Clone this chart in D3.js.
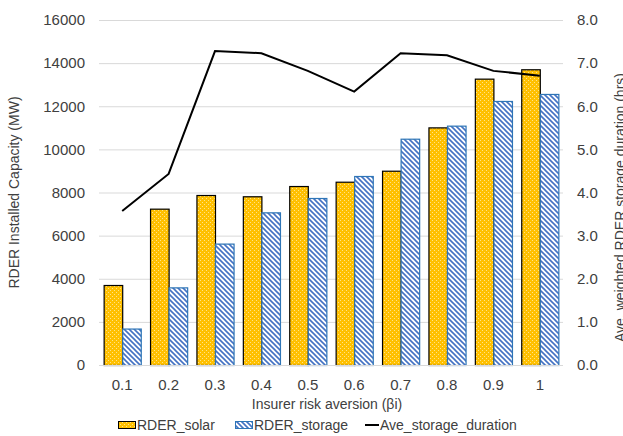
<!DOCTYPE html>
<html><head><meta charset="utf-8">
<script src="https://cdn.jsdelivr.net/npm/d3@7"></script>
<style>body{margin:0;background:#fff}svg{display:block}text{font-family:"Liberation Sans",Arial,sans-serif;fill:#404040}</style>
</head><body><svg id="c" width="623" height="436"></svg>
<script>
const categories = ["0.1","0.2","0.3","0.4","0.5","0.6","0.7","0.8","0.9","1"];
const solar = [3710, 7250, 7884, 7825, 8300, 8500, 9010, 11020, 13280, 13715];
const storage = [1690, 3600, 5630, 7080, 7745, 8765, 10495, 11100, 12245, 12570];
const duration = [3.57, 4.43, 7.28, 7.23, 6.82, 6.34, 7.23, 7.18, 6.82, 6.71];
const leftTicks = [0,2000,4000,6000,8000,10000,12000,14000,16000];
const rightTicks = [0,1,2,3,4,5,6,7,8];

const svg = d3.select("#c");
const L = 99, R = 563, T = 20, B = 365;
const x = d3.scaleBand().domain(categories).range([L, R]).paddingInner(0.2).paddingOuter(0.1);
const xs = d3.scaleBand().domain(["solar","storage"]).range([0, x.bandwidth()]);
const y = d3.scaleLinear().domain([0,16000]).range([B, T]);
const y2 = d3.scaleLinear().domain([0,8]).range([B, T]);

const defs = svg.append("defs");
const pd = defs.append("pattern").attr("id","dots").attr("patternUnits","userSpaceOnUse").attr("width",4).attr("height",4);
pd.append("rect").attr("width",4).attr("height",4).attr("fill","#FFC000");
pd.append("rect").attr("x",0).attr("y",0).attr("width",1).attr("height",1).attr("fill","#FFE38A");
pd.append("rect").attr("x",2).attr("y",2).attr("width",1).attr("height",1).attr("fill","#FFE38A");
const ps = defs.append("pattern").attr("id","stripes").attr("patternUnits","userSpaceOnUse").attr("width",5).attr("height",5);
ps.append("rect").attr("width",5).attr("height",5).attr("fill","#fff");
ps.append("path").attr("d","M-1,-1 L6,6 M-1,4 L1,6 M4,-1 L6,1").attr("stroke","#4472C4").attr("stroke-width",1.6);

// gridlines
svg.append("g").selectAll("line").data(leftTicks).join("line")
  .attr("x1",L).attr("x2",R).attr("y1",d=>y(d)+0.5).attr("y2",d=>y(d)+0.5)
  .attr("stroke","#D9D9D9").attr("stroke-width",1);

// left axis
const ax = d3.axisLeft(y).tickValues(leftTicks).tickSize(0).tickPadding(14).tickFormat(d3.format("d"));
const gl = svg.append("g").attr("transform",`translate(${L},0)`).call(ax);
gl.select(".domain").remove();
gl.selectAll("text").attr("font-size",15).attr("fill","#404040").attr("font-family","Liberation Sans, Arial, sans-serif");

const ax2 = d3.axisRight(y2).tickValues(rightTicks).tickSize(0).tickPadding(14).tickFormat(d3.format(".1f"));
const gr = svg.append("g").attr("transform",`translate(${R},0)`).call(ax2);
gr.select(".domain").remove();
gr.selectAll("text").attr("font-size",15).attr("fill","#404040").attr("font-family","Liberation Sans, Arial, sans-serif");

const axb = d3.axisBottom(x).tickSize(0).tickPadding(14);
const gb = svg.append("g").attr("transform",`translate(0,${B})`).call(axb);
gb.select(".domain").remove();
gb.selectAll("text").attr("font-size",15).attr("fill","#404040").attr("font-family","Liberation Sans, Arial, sans-serif");

// bars
const g = svg.append("g");
g.selectAll("rect.s").data(categories).join("rect").attr("class","s")
  .attr("x",(d)=>x(d)+0.5).attr("y",(d,i)=>y(solar[i])+0.5)
  .attr("width",xs.bandwidth()).attr("height",(d,i)=>B-y(solar[i]))
  .attr("fill","url(#dots)").attr("stroke","#000").attr("stroke-width",1.2);
g.selectAll("rect.t").data(categories).join("rect").attr("class","t")
  .attr("x",(d)=>x(d)+xs("storage")+0.5).attr("y",(d,i)=>y(storage[i])+0.5)
  .attr("width",xs.bandwidth()).attr("height",(d,i)=>B-y(storage[i]))
  .attr("fill","url(#stripes)").attr("stroke","#2E75B6").attr("stroke-width",1.2);

// baseline
svg.append("line").attr("x1",L).attr("x2",R).attr("y1",B+0.5).attr("y2",B+0.5).attr("stroke","#D9D9D9");

// line
const line = d3.line().x((d,i)=>x(categories[i])+x.bandwidth()/2).y(d=>y2(d));
svg.append("path").datum(duration).attr("d",line).attr("fill","none").attr("stroke","#000").attr("stroke-width",2);

// titles
svg.append("text").attr("transform",`translate(19,${(T+B)/2}) rotate(-90)`).attr("text-anchor","middle")
  .attr("font-size",14).text("RDER Installed Capacity (MW)");
svg.append("text").attr("transform",`translate(625,342) rotate(-90)`).attr("text-anchor","start")
  .attr("font-size",14).text("Ave. weighted RDER storage duration (hrs)");
svg.append("text").attr("x",(L+R)/2 - 4).attr("y",409).attr("text-anchor","middle")
  .attr("font-size",14).text("Insurer risk aversion (βi)");

// legend
const lg = svg.append("g");
lg.append("rect").attr("x",118.5).attr("y",421.5).attr("width",17).attr("height",7).attr("fill","url(#dots)").attr("stroke","#000");
lg.append("text").attr("x",137).attr("y",430).attr("font-size",14).text("RDER_solar");
lg.append("rect").attr("x",235.5).attr("y",421.5).attr("width",17).attr("height",7).attr("fill","url(#stripes)").attr("stroke","#2E75B6");
lg.append("text").attr("x",254).attr("y",430).attr("font-size",14).text("RDER_storage");
lg.append("line").attr("x1",365).attr("x2",379).attr("y1",425).attr("y2",425).attr("stroke","#000").attr("stroke-width",2);
lg.append("text").attr("x",380).attr("y",430).attr("font-size",14).text("Ave_storage_duration");
</script></body></html>
